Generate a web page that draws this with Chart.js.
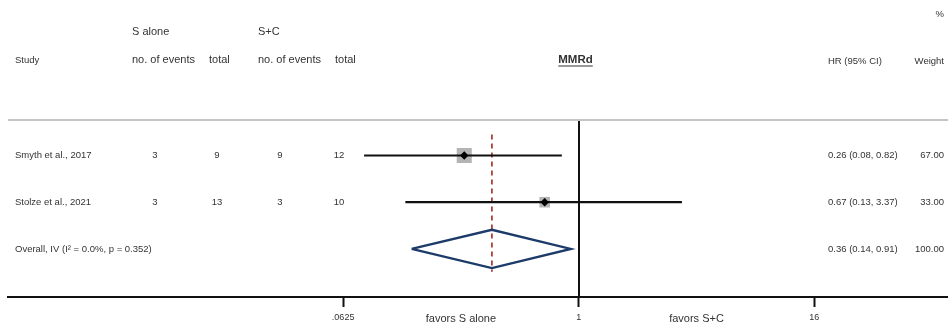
<!DOCTYPE html>
<html>
<head>
<meta charset="utf-8">
<script src="https://cdn.jsdelivr.net/npm/chart.js@4.4.0/dist/chart.umd.min.js"></script>
<style>
  html, body { margin: 0; padding: 0; background: #fff; }
  #wrap { width: 948px; height: 327px; position: relative; }
</style>
</head>
<body>
<div id="wrap"><canvas id="forest" width="948" height="327"></canvas></div>
<script>
// ---- study data ----
const studies = ["Smyth et al., 2017", "Stolze et al., 2021"];
const eventsSAlone = [3, 3];
const totalSAlone = [9, 13];
const eventsSC = [9, 3];
const totalSC = [12, 10];
const hazardRatios = [0.26, 0.67];
const ciLower = [0.08, 0.13];
const ciUpper = [0.82, 3.37];
const weights = [67.00, 33.00];

// ---- pooled estimate ----
const overallLabel = "Overall, IV (I\u00B2 = 0.0%, p = 0.352)";
const overallHR = 0.36;
const overallLower = 0.14;
const overallUpper = 0.91;
const overallWeight = 100.00;

// ---- axis ----
const tickValues = [0.0625, 1, 16];
const tickLabels = [".0625", "1", "16"];
const favourLabels = ["favors S alone", "favors S+C"];

// ---- layout / style ----
const FONT = "'Liberation Sans', Arial, sans-serif";
const TEXT = "#333";
const favourAt = [0.25, 4];           // log-midpoints between ticks
const overallRow = studies.length + 1;
const diamondHalf = 0.41;             // half height of pooled diamond, in rows
const headerRuleY = 120;

const fmt2 = v => v.toFixed(2);
const hrText = (h, l, u) => `${fmt2(h)} (${fmt2(l)}, ${fmt2(u)})`;

const datasets = [];

// point-estimate markers (top)
datasets.push({
  data: hazardRatios.map((v, i) => ({ x: v, y: i + 1 })),
  pointStyle: 'rectRot', pointRadius: 4.2, pointBorderWidth: 0,
  backgroundColor: '#000', borderColor: '#000', order: 1
});
// confidence intervals
studies.forEach((s, i) => {
  datasets.push({
    data: [{ x: ciLower[i], y: i + 1 }, { x: ciUpper[i], y: i + 1 }],
    showLine: true, borderColor: '#111', borderWidth: 2.2,
    pointRadius: 0, order: 2
  });
});
// pooled diamond
datasets.push({
  data: [
    { x: overallLower, y: overallRow },
    { x: overallHR, y: overallRow - diamondHalf },
    { x: overallUpper, y: overallRow },
    { x: overallHR, y: overallRow + diamondHalf },
    { x: overallLower, y: overallRow }
  ],
  showLine: true, borderColor: '#1d3b69', borderWidth: 2.4,
  borderJoinStyle: 'miter', pointRadius: 0, fill: false, order: 2
});
// weight boxes (area proportional to weight)
datasets.push({
  data: hazardRatios.map((v, i) => ({ x: v, y: i + 1 })),
  pointStyle: 'rect', pointRadius: weights.map(w => 1.3 * Math.sqrt(w)),
  pointBorderWidth: 0, backgroundColor: '#b4b4b4', borderColor: '#b4b4b4',
  order: 3
});

function drawText(ctx, str, x, y, size, align, bold) {
  ctx.save();
  ctx.font = `${bold ? 'bold ' : ''}${size}px ${FONT}`;
  ctx.fillStyle = TEXT;
  ctx.textAlign = align || 'left';
  ctx.textBaseline = 'middle';
  ctx.fillText(str, x, y);
  const w = ctx.measureText(str).width;
  ctx.restore();
  return w;
}

const forestLayout = {
  id: 'forestLayout',
  beforeDatasetsDraw(chart) {
    const { ctx, chartArea } = chart;
    const xs = chart.scales.x, ys = chart.scales.y;
    ctx.save();
    // header rule
    ctx.strokeStyle = '#c4c4c4';
    ctx.lineWidth = 2;
    ctx.beginPath();
    ctx.moveTo(chartArea.left, headerRuleY);
    ctx.lineTo(chartArea.right, headerRuleY);
    ctx.stroke();
    // line of no effect
    const x1 = Math.round(xs.getPixelForValue(1));
    ctx.strokeStyle = '#111';
    ctx.lineWidth = 2;
    ctx.beginPath();
    ctx.moveTo(x1, headerRuleY + 1);
    ctx.lineTo(x1, chartArea.bottom);
    ctx.stroke();
    // pooled estimate line
    const xo = xs.getPixelForValue(overallHR);
    ctx.strokeStyle = '#b0403a';
    ctx.lineWidth = 1.8;
    ctx.setLineDash([5, 4]);
    ctx.beginPath();
    ctx.moveTo(xo, ys.getPixelForValue(0.55));
    ctx.lineTo(xo, ys.getPixelForValue(overallRow + diamondHalf + 0.08));
    ctx.stroke();
    ctx.restore();
  },
  afterDraw(chart) {
    const { ctx } = chart;
    const xs = chart.scales.x, ys = chart.scales.y;
    // column headers
    drawText(ctx, "%", 944, 14, 9.5, 'right');
    drawText(ctx, "S alone", 132, 32, 11);
    drawText(ctx, "S+C", 258, 32, 11);
    drawText(ctx, "Study", 15, 60, 9.5);
    drawText(ctx, "no. of events", 132, 60, 11);
    drawText(ctx, "total", 209, 60, 11);
    drawText(ctx, "no. of events", 258, 60, 11);
    drawText(ctx, "total", 335, 60, 11);
    const mx = 575.5;
    const mw = drawText(ctx, "MMRd", mx, 60, 11.5, 'center', true);
    ctx.save();
    ctx.strokeStyle = TEXT;
    ctx.lineWidth = 1.2;
    ctx.beginPath();
    ctx.moveTo(mx - mw / 2, 66);
    ctx.lineTo(mx + mw / 2, 66);
    ctx.stroke();
    ctx.restore();
    drawText(ctx, "HR (95% CI)", 828, 61, 9.5);
    drawText(ctx, "Weight", 944, 61, 9.5, 'right');

    // study rows
    studies.forEach((s, i) => {
      const y = ys.getPixelForValue(i + 1);
      drawText(ctx, s, 15, y, 9.5);
      drawText(ctx, String(eventsSAlone[i]), 155, y, 9.5, 'center');
      drawText(ctx, String(totalSAlone[i]), 217, y, 9.5, 'center');
      drawText(ctx, String(eventsSC[i]), 280, y, 9.5, 'center');
      drawText(ctx, String(totalSC[i]), 339, y, 9.5, 'center');
      drawText(ctx, hrText(hazardRatios[i], ciLower[i], ciUpper[i]), 828, y, 9.5);
      drawText(ctx, fmt2(weights[i]), 944, y, 9.5, 'right');
    });

    // pooled row
    const yo = ys.getPixelForValue(overallRow);
    drawText(ctx, overallLabel, 15, yo, 9.5);
    drawText(ctx, hrText(overallHR, overallLower, overallUpper), 828, yo, 9.5);
    drawText(ctx, fmt2(overallWeight), 944, yo, 9.5, 'right');

    // direction labels under the axis
    favourLabels.forEach((t, i) => {
      drawText(ctx, t, xs.getPixelForValue(favourAt[i]), 319, 11, 'center');
    });
  }
};

new Chart(document.getElementById('forest'), {
  type: 'scatter',
  data: { datasets },
  options: {
    responsive: false,
    animation: false,
    events: [],
    layout: { autoPadding: false, padding: { left: 8, right: 0, top: 0, bottom: 0 } },
    plugins: { legend: { display: false }, tooltip: { enabled: false } },
    scales: {
      x: {
        type: 'logarithmic',
        position: 'bottom',
        min: Math.pow(2, -9.69),
        max: Math.pow(2, 6.27),
        bounds: 'data',
        afterBuildTicks: s => { s.ticks = tickValues.map(v => ({ value: v })); },
        afterFit: s => { s.height = 30; s.paddingLeft = 0; s.paddingRight = 0; },
        grid: { display: true, drawOnChartArea: false, drawTicks: true, tickLength: 10, tickWidth: 2, tickColor: '#111' },
        border: { display: true, color: '#111', width: 2 },
        ticks: {
          autoSkip: false, maxRotation: 0, padding: 5, color: TEXT,
          font: { family: FONT, size: 9 },
          callback: (v, i) => tickLabels[i]
        }
      },
      y: { type: 'linear', display: false, min: -2.33, max: 4.03, reverse: true }
    }
  },
  plugins: [forestLayout]
});
</script>
</body>
</html>
